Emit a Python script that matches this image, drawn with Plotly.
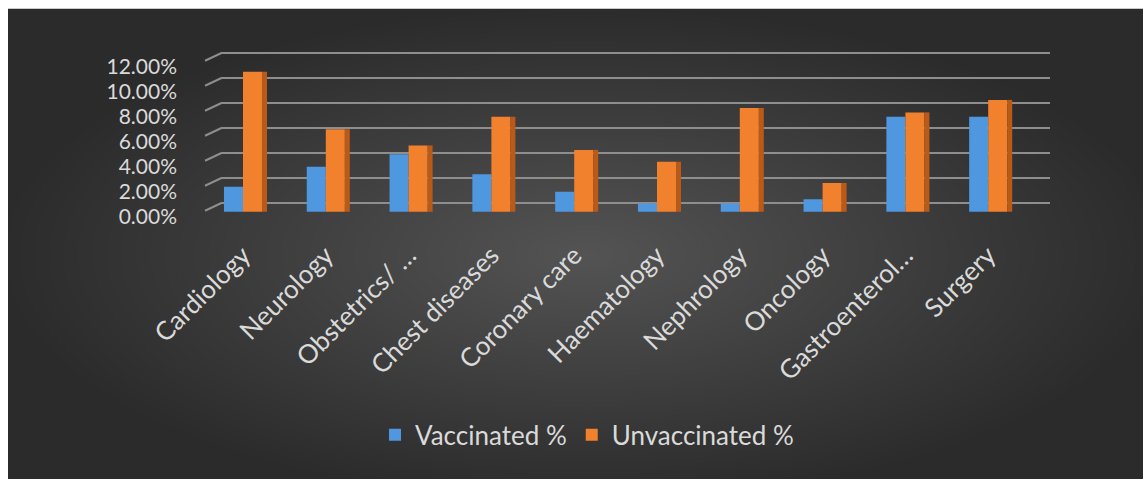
import plotly.graph_objects as go

categories = ["Cardiology", "Neurology", "Obstetrics/ …", "Chest diseases", "Coronary care",
              "Haematology", "Nephrology", "Oncology", "Gastroenterol…", "Surgery"]
vaccinated = [2.0, 3.6, 4.6, 3.0, 1.6, 0.65, 0.65, 1.0, 7.6, 7.6]
unvaccinated = [11.2, 6.6, 5.3, 7.6, 4.95, 4.0, 8.3, 2.3, 7.95, 8.95]
y_ticks = [0, 2, 4, 6, 8, 10, 12]
y_ticktext = ["0.00%", "2.00%", "4.00%", "6.00%", "8.00%", "10.00%", "12.00%"]

W, H = 1143, 479
UNIT = 12.5            # px per percentage point
Y0 = 212               # pixel of value 0 for bars
YMIN, YMAX = -0.5, 13.5
L, R = 222, 1050
B = Y0 - YMIN * UNIT   # plot-area bottom
T = Y0 - YMAX * UNIT   # plot-area top
PW, PH = R - L, B - T
STEP = 82.8


def px(x):
    return (x - L) / PW


def py(y):
    return (B - y) / PH


font = "Lato, 'Open Sans', sans-serif"
txt = "#dadada"
grid = "#8e8e8e"

fig = go.Figure()
fig.add_trace(go.Bar(x=categories, y=vaccinated, name="Vaccinated %", offset=-0.23, width=0.23,
                     marker=dict(color="#4f97de", line=dict(width=0))))
fig.add_trace(go.Bar(x=categories, y=unvaccinated, name="Unvaccinated %", offset=0.0, width=0.23,
                     marker=dict(color="#f2812e", line=dict(width=0))))
fig.add_trace(go.Bar(x=categories, y=unvaccinated, showlegend=False, offset=0.23, width=0.06,
                     marker=dict(color="#b95a18", line=dict(width=0)), hoverinfo="skip"))
# invisible traces to activate the gridline axis and the label axis
fig.add_trace(go.Scatter(x=[categories[0]], y=[0], yaxis="y2", mode="markers",
                         marker=dict(opacity=0), showlegend=False, hoverinfo="skip"))
fig.add_trace(go.Scatter(x=[categories[0]], y=[0], yaxis="y3", mode="markers",
                         marker=dict(opacity=0), showlegend=False, hoverinfo="skip"))

shapes = []
# background panel with soft radial lightening
shapes.append(dict(type="rect", xref="paper", yref="paper", x0=px(8), x1=px(W + 5), y0=py(H + 5), y1=py(9),
                   fillcolor="#2b2b2b", line=dict(width=0), layer="below"))
cx, cy = 585, 255
rx, ry = 580, 245
n = 40
for i in range(n):
    f = 1.0 - i / n
    shapes.append(dict(type="circle", xref="paper", yref="paper",
                       x0=px(cx - rx * f), x1=px(cx + rx * f), y0=py(cy + ry * f), y1=py(cy - ry * f),
                       fillcolor="rgba(255,255,255,0.0065)", line=dict(width=0), layer="below"))
# slanted gridline stubs at left (perspective)
for v in y_ticks:
    shapes.append(dict(type="line", xref="paper", yref="y2", x0=px(205), x1=0, y0=v - 0.64, y1=v,
                       line=dict(color=grid, width=2), layer="below"))

fig.update_layout(
    width=W, height=H,
    margin=dict(l=L, r=W - R, t=T, b=H - B),
    paper_bgcolor="white",
    plot_bgcolor="rgba(0,0,0,0)",
    barmode="overlay",
    shapes=shapes,
    font=dict(family=font, color=txt),
    xaxis=dict(range=[-(243 - L) / STEP, -(243 - L) / STEP + PW / STEP], showgrid=False, zeroline=False,
               showline=False, tickangle=-45, tickfont=dict(size=26, color=txt, family=font),
               ticks="", ticklabelstandoff=16),
    yaxis=dict(range=[YMIN, YMAX], showticklabels=False, showgrid=False, zeroline=False, showline=False),
    yaxis2=dict(range=[YMIN - 9 / UNIT, YMAX - 9 / UNIT], overlaying="y", tickvals=y_ticks,
                showticklabels=False, showgrid=True, gridcolor=grid, gridwidth=2, zeroline=False,
                showline=False),
    yaxis3=dict(range=[YMIN + 5 / UNIT, YMAX + 5 / UNIT], overlaying="y", side="left",
                tickvals=y_ticks, ticktext=y_ticktext, showgrid=False, zeroline=False, showline=False,
                tickfont=dict(size=21, color=txt, family=font), ticks="", ticklabelstandoff=44),
    legend=dict(orientation="h", x=px(587), xanchor="center", y=py(435), yanchor="middle",
                font=dict(size=26, color=txt, family=font), bgcolor="rgba(0,0,0,0)",
                itemwidth=30, traceorder="normal"),
    showlegend=True,
)

fig.write_html("out.html")
